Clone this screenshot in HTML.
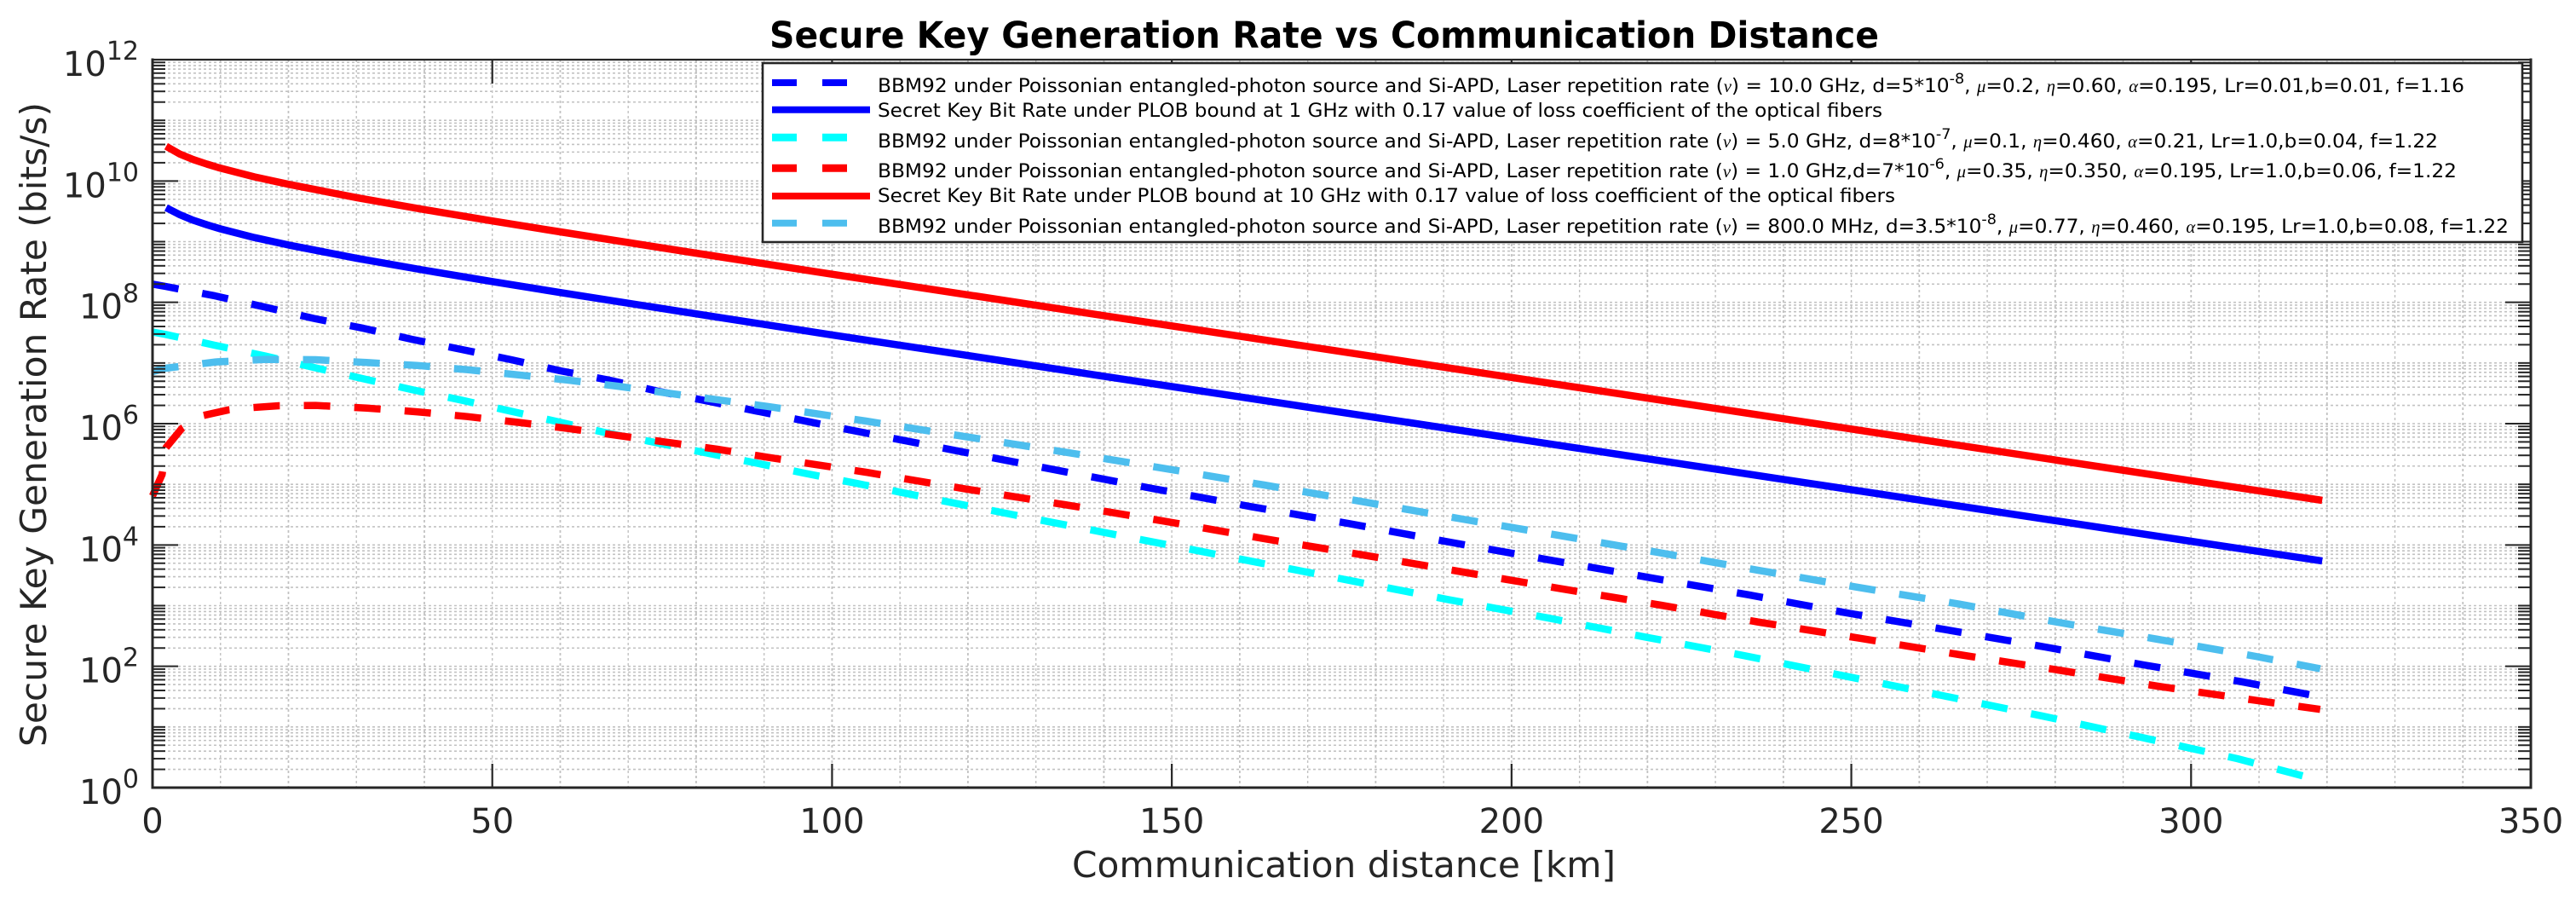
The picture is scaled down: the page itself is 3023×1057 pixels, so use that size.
<!DOCTYPE html>
<html lang="en">
<head>
<meta charset="utf-8">
<title>Secure Key Generation Rate vs Communication Distance</title>
<style>
html,body{margin:0;padding:0;background:#fff;width:3023px;height:1057px;overflow:hidden}
svg{display:block;font-family:"DejaVu Sans","Liberation Sans",sans-serif}
.lg{font-size:22.5px;fill:#000}
.gk{font-family:"Liberation Serif",serif;font-style:italic;font-size:20px}
.sp{font-size:17px}
</style>
</head>
<body>
<svg id="chart" xmlns="http://www.w3.org/2000/svg" width="3023" height="1057" viewBox="0 0 3023 1057">
  <rect x="0" y="0" width="3023" height="1057" fill="#fff"/>
  <g id="grid"></g>
  <g id="series"></g>
  <g id="axes"></g>
  <text x="903" y="56" font-size="43" font-weight="bold" fill="#000" textLength="1302" lengthAdjust="spacingAndGlyphs">Secure Key Generation Rate vs Communication Distance</text>
  <text x="1258" y="1029" font-size="42" fill="#262626" textLength="638" lengthAdjust="spacingAndGlyphs">Communication distance [km]</text>
  <text transform="translate(54,876) rotate(-90)" font-size="42" fill="#262626" textLength="756" lengthAdjust="spacingAndGlyphs">Secure Key Generation Rate (bits/s)</text>

  <g>
    <rect x="895" y="74" width="2065" height="210" fill="#fff" stroke="#262626" stroke-width="2.6"/>
    <line x1="906" x2="1021" y1="97" y2="97" stroke="#0000ff" stroke-width="8" stroke-dasharray="29 30"/>
    <line x1="906" x2="1021" y1="128.7" y2="128.7" stroke="#0000ff" stroke-width="8"/>
    <line x1="906" x2="1021" y1="161.3" y2="161.3" stroke="#00ffff" stroke-width="9" stroke-dasharray="29 30"/>
    <line x1="906" x2="1021" y1="197.3" y2="197.3" stroke="#ff0000" stroke-width="9" stroke-dasharray="29 30"/>
    <line x1="906" x2="1021" y1="230" y2="230" stroke="#ff0000" stroke-width="8"/>
    <line x1="906" x2="1021" y1="261.7" y2="261.7" stroke="#4dbeee" stroke-width="8" stroke-dasharray="29 30"/>

    <text class="lg" x="1030" y="108" textLength="1862" lengthAdjust="spacingAndGlyphs">BBM92 under Poissonian entangled-photon source and Si-APD, Laser repetition rate (<tspan class="gk">ν</tspan>) = 10.0 GHz, d=5*10<tspan class="sp" dy="-10">-8</tspan><tspan dy="10">, </tspan><tspan class="gk">μ</tspan>=0.2, <tspan class="gk">η</tspan>=0.60, <tspan class="gk">α</tspan>=0.195, Lr=0.01,b=0.01, f=1.16</text>
    <text class="lg" x="1030" y="137" textLength="1179" lengthAdjust="spacingAndGlyphs">Secret Key Bit Rate under PLOB bound at 1 GHz with 0.17 value of loss coefficient of the optical fibers</text>
    <text class="lg" x="1030" y="173" textLength="1831" lengthAdjust="spacingAndGlyphs">BBM92 under Poissonian entangled-photon source and Si-APD, Laser repetition rate (<tspan class="gk">ν</tspan>) = 5.0 GHz, d=8*10<tspan class="sp" dy="-10">-7</tspan><tspan dy="10">, </tspan><tspan class="gk">μ</tspan>=0.1, <tspan class="gk">η</tspan>=0.460, <tspan class="gk">α</tspan>=0.21, Lr=1.0,b=0.04, f=1.22</text>
    <text class="lg" x="1030" y="208" textLength="1853" lengthAdjust="spacingAndGlyphs">BBM92 under Poissonian entangled-photon source and Si-APD, Laser repetition rate (<tspan class="gk">ν</tspan>) = 1.0 GHz,d=7*10<tspan class="sp" dy="-10">-6</tspan><tspan dy="10">, </tspan><tspan class="gk">μ</tspan>=0.35, <tspan class="gk">η</tspan>=0.350, <tspan class="gk">α</tspan>=0.195, Lr=1.0,b=0.06, f=1.22</text>
    <text class="lg" x="1030" y="237" textLength="1194" lengthAdjust="spacingAndGlyphs">Secret Key Bit Rate under PLOB bound at 10 GHz with 0.17 value of loss coefficient of the optical fibers</text>
    <text class="lg" x="1030" y="273" textLength="1914" lengthAdjust="spacingAndGlyphs">BBM92 under Poissonian entangled-photon source and Si-APD, Laser repetition rate (<tspan class="gk">ν</tspan>) = 800.0 MHz, d=3.5*10<tspan class="sp" dy="-10">-8</tspan><tspan dy="10">, </tspan><tspan class="gk">μ</tspan>=0.77, <tspan class="gk">η</tspan>=0.460, <tspan class="gk">α</tspan>=0.195, Lr=1.0,b=0.08, f=1.22</text>
  </g>
</svg>
<script>
var xTickLabels = [0, 50, 100, 150, 200, 250, 300, 350];
var xGridValues = [10, 20, 30, 40, 50, 60, 70, 80, 90, 100, 110, 120, 130, 140, 150, 160, 170, 180, 190, 200, 210, 220, 230, 240, 250, 260, 270, 280, 290, 300, 310, 320, 330, 340];
var yTickExponents = [0, 2, 4, 6, 8, 10, 12];
var yDecades = [0, 1, 2, 3, 4, 5, 6, 7, 8, 9, 10, 11];
var yMinorMultipliers = [1, 2, 3, 4, 5, 6, 7, 8, 9];

// distance in km / log10(rate in bits/s)
var plobDistance = [2, 4, 6, 8, 10, 15, 20, 30, 40, 50, 60, 80, 100, 120, 140, 160, 180, 200, 220, 240, 260, 280, 300, 319.3];
var plob10GhzLog = [10.572, 10.445, 10.353, 10.278, 10.211, 10.068, 9.945, 9.727, 9.529, 9.342, 9.161, 8.81, 8.463, 8.123, 7.781, 7.441, 7.101, 6.761, 6.421, 6.081, 5.741, 5.401, 5.061, 4.735];
var plob1GhzLog = [9.56, 9.445, 9.353, 9.278, 9.211, 9.068, 8.945, 8.727, 8.529, 8.342, 8.161, 7.81, 7.463, 7.123, 6.781, 6.441, 6.101, 5.761, 5.421, 5.081, 4.741, 4.401, 4.061, 3.737];

var bbm10GhzDistance = [0, 1.9, 9.2, 16.4, 23.7, 31, 38.2, 45.5, 52.8, 60, 67.1, 74.4, 81.8, 89, 96.3, 103.5, 118, 132.5, 147.1, 161.7, 176.3, 190.9, 205.4, 220.1, 234.8, 249.3, 263.9, 278.5, 293, 307.6, 319];
var bbm10GhzLog = [8.3, 8.262, 8.107, 7.925, 7.735, 7.573, 7.39, 7.222, 7.054, 6.871, 6.72, 6.534, 6.369, 6.205, 6.038, 5.878, 5.56, 5.245, 4.932, 4.632, 4.347, 4.047, 3.756, 3.466, 3.18, 2.88, 2.604, 2.318, 2.023, 1.742, 1.5];

var bbm5GhzDistance = [0, 1.9, 9.2, 16.6, 23.7, 30.9, 38.1, 45.4, 52.7, 59.8, 67.1, 74.2, 81.5, 88.9, 96.1, 103.4, 117.9, 132.4, 147, 161.5, 176, 190.6, 205.2, 219.7, 234.4, 248.8, 263.4, 278, 292.5, 306.8, 319];
var bbm5GhzLog = [7.51, 7.471, 7.292, 7.114, 6.927, 6.744, 6.562, 6.389, 6.206, 6.028, 5.84, 5.685, 5.517, 5.349, 5.18, 5.02, 4.692, 4.373, 4.055, 3.737, 3.419, 3.101, 2.8, 2.482, 2.173, 1.845, 1.517, 1.183, 0.833, 0.478, 0.12];

var bbm1GhzDistance = [0, 1.4, 2, 4.3, 7.5, 11.2, 14.8, 18.6, 24, 31.5, 38.9, 46.3, 53.7, 61, 68.4, 75.7, 83.1, 90.4, 105, 119.7, 134.2, 148.9, 163.4, 178.1, 192.8, 207.3, 222, 236.5, 251.2, 265.9, 280.4, 295.1, 309.6, 319];
var bbm1GhzLog = [4.81, 5.16, 5.606, 5.92, 6.135, 6.228, 6.266, 6.295, 6.3, 6.257, 6.196, 6.116, 6.022, 5.923, 5.806, 5.694, 5.578, 5.448, 5.199, 4.922, 4.665, 4.393, 4.107, 3.836, 3.555, 3.278, 3.007, 2.726, 2.463, 2.192, 1.939, 1.672, 1.437, 1.29];

var bbm800MhzDistance = [0, 1.9, 9.3, 16.7, 24, 31.5, 38.9, 46.3, 53.7, 61, 68.4, 75.7, 90.4, 105, 119.7, 134.3, 149, 163.6, 178.2, 192.8, 207.4, 222, 236.5, 251.2, 265.9, 280.4, 295.1, 309.5, 319];
var bbm800MhzLog = [6.857, 6.913, 7.018, 7.06, 7.054, 7.007, 6.96, 6.889, 6.805, 6.72, 6.618, 6.505, 6.285, 6.042, 5.785, 5.531, 5.26, 4.988, 4.711, 4.426, 4.15, 3.868, 3.579, 3.298, 3.025, 2.726, 2.445, 2.164, 1.96];

var NS = 'http://www.w3.org/2000/svg';
var PLOT_LEFT = 179, PLOT_RIGHT = 2970, PLOT_TOP = 70, PLOT_BOTTOM = 924;
var X_MAX = 350, LOG_MAX = 12;
var INK = '#262626', GRID = '#c2c2c2';

function xScale(km) { return PLOT_LEFT + km / X_MAX * (PLOT_RIGHT - PLOT_LEFT); }
function yScale(logValue) { return PLOT_BOTTOM - logValue / LOG_MAX * (PLOT_BOTTOM - PLOT_TOP); }

function make(tag, attrs, parent) {
  var node = document.createElementNS(NS, tag);
  for (var key in attrs) node.setAttribute(key, attrs[key]);
  parent.appendChild(node);
  return node;
}

var gridLayer = document.getElementById('grid');
var axesLayer = document.getElementById('axes');
var seriesLayer = document.getElementById('series');

xGridValues.forEach(function (km) {
  var x = xScale(km);
  var line = make('line', { x1: x, x2: x, y1: PLOT_TOP, y2: PLOT_BOTTOM, stroke: GRID, 'stroke-width': km % 20 === 0 ? 1.8 : 1.4, 'stroke-dasharray': '3 3' }, gridLayer);
  
  
});

yDecades.forEach(function (decade) {
  yMinorMultipliers.forEach(function (m) {
    var logValue = decade + Math.log10(m);
    var y = yScale(logValue);
    var line = make('line', { x1: PLOT_LEFT, x2: PLOT_RIGHT, y1: y, y2: y, stroke: GRID, 'stroke-width': 1.6, 'stroke-dasharray': '3 3' }, gridLayer);
    
    
    var isMajor = m === 1 && decade % 2 === 0;
    var tickLength = isMajor ? 30 : 15;
    if (!(m === 1 && decade === 0)) {
      var leftTick = make('line', { x1: PLOT_LEFT, x2: PLOT_LEFT + tickLength, y1: y, y2: y, stroke: INK, 'stroke-width': 2 }, axesLayer);
      
      
      var rightTick = make('line', { x1: PLOT_RIGHT, x2: PLOT_RIGHT - tickLength, y1: y, y2: y, stroke: INK, 'stroke-width': 2 }, axesLayer);
      
      
    }
  });
});

function drawSeries(name, distances, logs, color, dashed) {
  var points = distances.map(function (km, i) { return xScale(km).toFixed(1) + ',' + yScale(logs[i]).toFixed(1); }).join(' ');
  var attrs = { points: points, fill: 'none', stroke: color, 'stroke-width': 8.5, 'stroke-linejoin': 'round' };
  if (dashed) attrs['stroke-dasharray'] = '31 28.2';
  var line = make('polyline', attrs, seriesLayer);
  
  
}

drawSeries('series-bbm92-10ghz', bbm10GhzDistance, bbm10GhzLog, '#0000ff', true);
drawSeries('series-plob-1ghz', plobDistance, plob1GhzLog, '#0000ff', false);
drawSeries('series-bbm92-5ghz', bbm5GhzDistance, bbm5GhzLog, '#00ffff', true);
drawSeries('series-bbm92-1ghz', bbm1GhzDistance, bbm1GhzLog, '#ff0000', true);
drawSeries('series-plob-10ghz', plobDistance, plob10GhzLog, '#ff0000', false);
drawSeries('series-bbm92-800mhz', bbm800MhzDistance, bbm800MhzLog, '#4dbeee', true);

xTickLabels.forEach(function (km) {
  var x = xScale(km);
  var bottomTick = make('line', { x1: x, x2: x, y1: PLOT_BOTTOM, y2: PLOT_BOTTOM - 28, stroke: INK, 'stroke-width': 2.2 }, axesLayer);
  
  
  var topTick = make('line', { x1: x, x2: x, y1: PLOT_TOP, y2: PLOT_TOP + 28, stroke: INK, 'stroke-width': 2.2 }, axesLayer);
  
  
  var label = make('text', { x: x, y: 977, 'text-anchor': 'middle', 'font-size': 40, fill: INK }, axesLayer);
  label.textContent = String(km);
  
  
});

yTickExponents.forEach(function (exponent) {
  var y = yScale(exponent);
  var label = make('text', { x: 163, y: y + 19, 'text-anchor': 'end', 'font-size': 40, fill: INK }, axesLayer);
  
  
  var base = make('tspan', {}, label);
  base.textContent = '10';
  var power = make('tspan', { dy: -19, 'font-size': 30 }, label);
  power.textContent = String(exponent);
});

var frame = [
  ['axis-left', PLOT_LEFT, PLOT_TOP, PLOT_LEFT, PLOT_BOTTOM, 3],
  ['axis-bottom', PLOT_LEFT, PLOT_BOTTOM, PLOT_RIGHT, PLOT_BOTTOM, 3],
  ['axis-right', PLOT_RIGHT, PLOT_TOP, PLOT_RIGHT, PLOT_BOTTOM, 3],
  ['axis-top', PLOT_LEFT, PLOT_TOP, PLOT_RIGHT, PLOT_TOP, 2.2]
];
frame.forEach(function (f) {
  var line = make('line', { x1: f[1], y1: f[2], x2: f[3], y2: f[4], stroke: INK, 'stroke-width': f[5], 'stroke-linecap': 'square' }, axesLayer);
  
  
});
</script>
</body>
</html>
